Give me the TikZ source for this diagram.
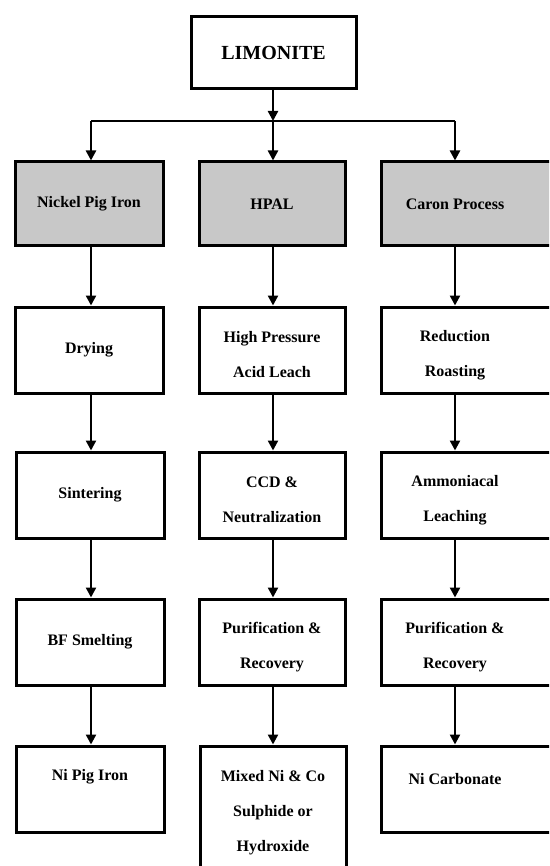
\documentclass[tikz,border=0pt]{standalone}
\usepackage{fontspec}
\setmainfont{Liberation Serif}
\usetikzlibrary{arrows.meta}
\definecolor{boxgray}{RGB}{200,200,200}
\begin{document}
\begin{tikzpicture}[x=1pt,y=-1pt,
  box/.style={draw=black, line width=3pt, fill=white, minimum width=148pt, minimum height=86pt, inner sep=0pt,
              font=\bfseries\fontsize{16}{35}\selectfont, align=center},
  grey/.style={box, fill=boxgray, minimum height=84pt},
  txt/.style={inner sep=0pt, font=\bfseries\fontsize{16}{35}\selectfont, align=center},
  arr/.style={draw=black, line width=2.3pt, -{Triangle[width=10pt,length=10pt]}},
  ln/.style={draw=black, line width=2.3pt}]
\useasboundingbox (0,0) rectangle (549,866);
\clip (0,0) rectangle (549,866);
\fill[white] (0,0) rectangle (549,866);
\coordinate (lc) at (91,0);
\coordinate (mc) at (273,0);
\coordinate (rc) at (455,0);
\coordinate (split) at (0,121);
% top
\node[box, minimum width=165pt, minimum height=72pt, font=\bfseries\fontsize{20}{24}\selectfont] (top) at (273.5,53) {LIMONITE};
% row 1 (grey)
\node[grey] (a1) at (89,204) {Nickel Pig Iron};
\node[grey, minimum width=146pt] (b1) at (272,204) {HPAL};
\node[grey, minimum width=220pt] (c1) at (491,204) {};
\node[txt] at (rc |- c1) {Caron Process};
% row 2
\node[box] (a2) at (89,350) {Drying};
\node[box, minimum width=146pt] (b2) at (272,350) {};
\node[txt] at (272,355) {High Pressure\\Acid Leach};
\node[box, minimum width=220pt] (c2) at (491,350) {};
\node[txt] at (455,355) {Reduction\\Roasting};
% row 3
\node[box] (a3) at (90,495) {Sintering};
\node[box, minimum width=146pt] (b3) at (272,495) {};
\node[txt] at (272,500) {CCD \&\\Neutralization};
\node[box, minimum width=220pt] (c3) at (491,495) {};
\node[txt] at (455,500) {Ammoniacal\\Leaching};
% row 4
\node[box] (a4) at (90,642) {BF Smelting};
\node[box, minimum width=146pt] (b4) at (272,642) {};
\node[txt] at (272,647) {Purification \&\\Recovery};
\node[box, minimum width=220pt] (c4) at (491,642) {};
\node[txt] at (455,647) {Purification \&\\Recovery};
% row 5
\node[box] (a5) at (90,789) {};
\node[txt] at (90,777) {Ni Pig Iron};
\node[box, minimum width=146pt, minimum height=160pt] (b5) at (273,826) {};
\node[txt] at (273,813) {Mixed Ni \& Co\\Sulphide or\\Hydroxide};
\node[box, minimum width=220pt] (c5) at (491,789) {};
\node[txt] at (455,779) {Ni Carbonate};
% connectors
\draw[arr] (mc |- top.south) -- (mc |- split);
\draw[ln] (lc |- split) -- (rc |- split);
\draw[arr] (lc |- split) -- (lc |- a1.north);
\draw[arr] (mc |- split) -- (mc |- b1.north);
\draw[arr] (rc |- split) -- (rc |- c1.north);
\foreach \u/\v in {a1/a2,a2/a3,a3/a4,a4/a5}{\draw[arr] (lc |- \u.south) -- (lc |- \v.north);}
\foreach \u/\v in {b1/b2,b2/b3,b3/b4,b4/b5}{\draw[arr] (mc |- \u.south) -- (mc |- \v.north);}
\foreach \u/\v in {c1/c2,c2/c3,c3/c4,c4/c5}{\draw[arr] (rc |- \u.south) -- (rc |- \v.north);}
\end{tikzpicture}
\end{document}
